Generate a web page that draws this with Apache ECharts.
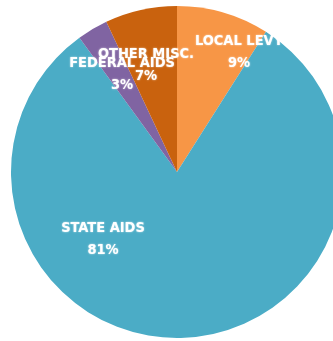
<!DOCTYPE html>
<html>
<head>
<meta charset="utf-8">
<style>
  html, body { margin: 0; padding: 0; background: #ffffff; }
  #chart { width: 333px; height: 341px; }
</style>
<script src="https://cdn.jsdelivr.net/npm/echarts@6/dist/echarts.min.js"></script>
</head>
<body>
<div id="chart"></div>
<script>
// Revenue sources, share of total (%), clockwise from 12 o'clock
const categories = ['LOCAL LEVY', 'STATE AIDS', 'FEDERAL AIDS', 'OTHER MISC.'];
const shares = [9, 81, 3, 7];
const sliceColors = ['#F79646', '#4BACC6', '#8064A2', '#C9620E'];

// Label anchor points (centre of the two-line label) in pixels
const labelSpots = [[239, 52], [103, 239], [122, 74], [146, 65]];

const chart = echarts.init(document.getElementById('chart'), null, { renderer: 'canvas' });

chart.setOption({
  animation: false,
  backgroundColor: '#ffffff',
  series: [{
    type: 'pie',
    center: [177, 172],
    radius: 166,
    startAngle: 90,
    clockwise: true,
    avoidLabelOverlap: false,
    emphasis: { disabled: true },
    itemStyle: { borderWidth: 0 },
    label: {
      show: true,
      position: 'inside',
      formatter: p => p.name + '\n' + p.value + '%',
      color: '#ffffff',
      fontFamily: '"Liberation Sans Narrow", "DejaVu Sans Condensed", sans-serif',
      fontWeight: 'bold',
      fontSize: 14.5,
      lineHeight: 22,
      align: 'center',
      textShadowColor: 'rgba(255,255,255,0.7)',
      textShadowBlur: 2
    },
    labelLine: { show: false },
    labelLayout: params => ({
      x: labelSpots[params.dataIndex][0],
      y: labelSpots[params.dataIndex][1],
      align: 'center',
      verticalAlign: 'middle'
    }),
    data: categories.map((name, i) => ({
      name: name,
      value: shares[i],
      itemStyle: { color: sliceColors[i] }
    }))
  }]
});
</script>
</body>
</html>
